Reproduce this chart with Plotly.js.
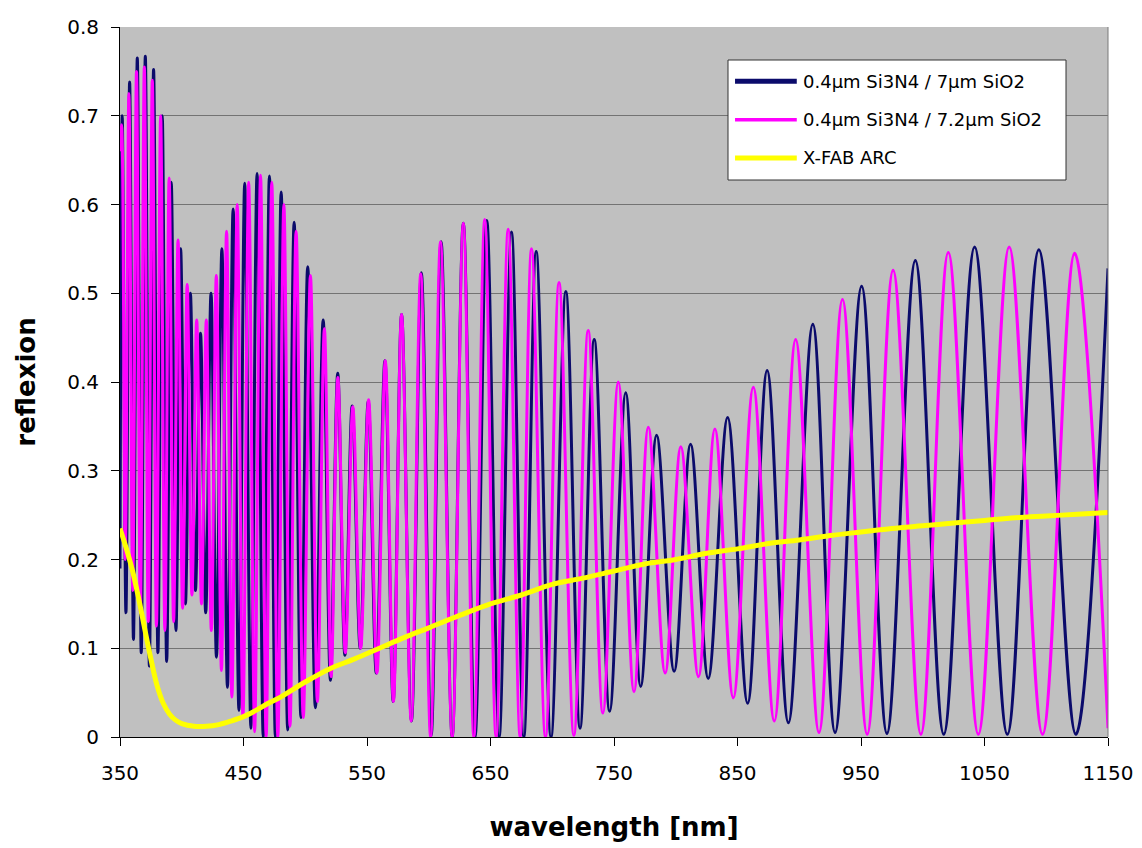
<!DOCTYPE html>
<html>
<head>
<meta charset="utf-8">
<script src="https://cdn.plot.ly/plotly-3.0.1.min.js"></script>
<style>html,body{margin:0;padding:0;background:#fff;}#chart{width:1142px;height:848px;}</style>
</head>
<body>
<div id="chart"></div>
<script>
// 0.4um Si3N4 / 7um SiO2 (extrema)
const wl7 = [350,351.8,354.8,357.8,360.9,364.0,367.2,370.5,373.8,377.2,380.7,384.2,387.8,391.5,395.3,399.1,403.0,407.0,411.1,415.2,419.4,423.7,428.1,432.5,437.0,441.6,446.3,451.0,456.0,461.0,466.0,471.0,475.8,480.5,485.8,491.0,496.5,502.0,508.2,514.5,520.4,526.3,532.1,538.0,544.5,551.0,557.5,564.5,571.2,578.0,586.0,594.0,602.0,610.0,619.0,628.0,637.5,647.0,657.0,667.0,677.0,687.0,699.0,711.0,722.5,734.0,746.5,759.5,771.6,784.5,798.7,812.0,826.3,842.0,858.2,874.0,891.2,911.0,929.0,950.5,971.0,994.0,1017.0,1042.0,1068.5,1094.0,1124.0,1150];
const r7 = [0.19,0.70,0.14,0.738,0.11,0.765,0.095,0.767,0.08,0.752,0.095,0.70,0.085,0.625,0.12,0.55,0.15,0.50,0.165,0.455,0.14,0.50,0.09,0.55,0.056,0.595,0.03,0.624,0.01,0.635,0.0,0.632,0.0,0.614,0.008,0.58,0.022,0.53,0.033,0.47,0.064,0.41,0.092,0.373,0.10,0.378,0.072,0.424,0.04,0.476,0.018,0.523,0.002,0.558,0.0,0.579,0.0,0.582,0.0,0.569,0.0,0.547,0.0,0.502,0.01,0.448,0.029,0.388,0.057,0.34,0.074,0.33,0.066,0.36,0.038,0.413,0.016,0.465,0.005,0.508,0.004,0.537,0.003,0.552,0.003,0.549,0.003,0.528];

// 0.4um Si3N4 / 7.2um SiO2
const wl72 = [350,351.3,354.25,357.2,360.3,363.35,366.5,369.7,372.9,376.15,379.5,382.9,386.35,389.8,393.4,397.0,400.7,404.4,408.25,412.1,416.0,419.9,423.95,428.0,432.15,436.3,440.6,444.9,449.55,454.2,459.0,463.8,468.35,472.9,477.8,482.7,487.65,492.6,498.4,504.2,509.85,515.5,520.95,526.4,532.45,538.5,544.9,551.3,558.05,564.8,571.4,578.0,585.8,593.5,601.5,609.5,619.0,628.0,636.5,645.3,654.5,664.3,674.0,683.2,694.5,705.5,717.5,729.1,741.0,753.5,766.2,777.8,791.4,804.1,818.4,831.7,846.6,862.8,879.8,897.1,916.0,935.0,955.0,976.0,998.5,1020.7,1045.0,1070.0,1097.0,1123.0,1150];
const r72 = [0.66,0.69,0.20,0.725,0.165,0.75,0.14,0.755,0.13,0.74,0.125,0.70,0.12,0.63,0.13,0.56,0.145,0.51,0.16,0.47,0.15,0.47,0.12,0.52,0.075,0.57,0.045,0.60,0.022,0.625,0.006,0.633,0.0,0.625,0.0,0.60,0.012,0.57,0.022,0.52,0.04,0.46,0.068,0.405,0.095,0.372,0.10,0.38,0.072,0.424,0.04,0.476,0.018,0.522,0.0,0.558,0.0,0.579,0.0,0.583,0.0,0.572,0.0,0.55,0.0,0.512,0.002,0.458,0.027,0.40,0.051,0.349,0.072,0.327,0.068,0.347,0.044,0.394,0.018,0.448,0.005,0.493,0.003,0.526,0.003,0.546,0.003,0.552,0.003,0.545,0.01];

// X-FAB ARC
const wlArc = [350,355,360,365,370,375,380,385,390,395,400,410,420,430,440,450,460,470,480,500,520,540,560,580,600,625,650,675,700,725,750,775,800,825,850,875,900,925,950,975,1000,1025,1050,1075,1100,1125,1150];
const rArc = [0.235,0.213,0.188,0.157,0.122,0.088,0.058,0.038,0.026,0.019,0.015,0.012,0.012,0.014,0.018,0.023,0.03,0.038,0.045,0.062,0.077,0.088,0.1,0.112,0.123,0.137,0.15,0.16,0.172,0.179,0.187,0.195,0.2,0.207,0.212,0.218,0.222,0.227,0.231,0.235,0.238,0.241,0.244,0.247,0.249,0.251,0.253];

const seriesNames = ['0.4µm Si3N4 / 7µm SiO2','0.4µm Si3N4 / 7.2µm SiO2','X-FAB ARC'];
const seriesColors = ['#0b0b6b','#ff00ff','#ffff00'];
const seriesWidths = [3.0, 3.0, 5.0];
const xTicks = [350,450,550,650,750,850,950,1050,1150];

const FONT = 'DejaVu Sans, Verdana, sans-serif';

const traces = [
  {x: wl7, y: r7, name: seriesNames[0], type: 'scatter', mode: 'lines',
   line: {color: seriesColors[0], width: seriesWidths[0], shape: 'spline', smoothing: 1}},
  {x: wl72, y: r72, name: seriesNames[1], type: 'scatter', mode: 'lines',
   line: {color: seriesColors[1], width: seriesWidths[1], shape: 'spline', smoothing: 1}},
  {x: wlArc, y: rArc, name: seriesNames[2], type: 'scatter', mode: 'lines',
   line: {color: seriesColors[2], width: seriesWidths[2], shape: 'spline', smoothing: 1}}
];

// legend box drawn in paper coordinates (plot area: 988 x 710 px)
const legX0 = 0.6154, legX1 = 0.9575, legY0 = 0.7845, legY1 = 0.9535;
const legRows = [0.9235, 0.8693, 0.8155];
const legLineX0 = 0.6225, legLineX1 = 0.6850, legTextX = 0.6895;

const shapes = [
  {type: 'line', xref: 'paper', yref: 'paper', x0: 1, x1: 1, y0: 0, y1: 1, line: {color: '#7a7a7a', width: 1}},
  {type: 'rect', xref: 'paper', yref: 'paper', x0: legX0, x1: legX1, y0: legY0, y1: legY1,
   fillcolor: '#ffffff', line: {color: '#333333', width: 1}, layer: 'above'}
];
const annotations = [];
seriesNames.forEach((n, i) => {
  shapes.push({type: 'line', xref: 'paper', yref: 'paper', x0: legLineX0, x1: legLineX1,
    y0: legRows[i], y1: legRows[i], line: {color: seriesColors[i], width: i === 1 ? 3.5 : 5}, layer: 'above'});
  annotations.push({xref: 'paper', yref: 'paper', x: legTextX, y: legRows[i], text: n,
    showarrow: false, xanchor: 'left', yanchor: 'middle',
    font: {family: FONT, size: 18, color: '#000'}});
});

const layout = {
  width: 1142, height: 848,
  margin: {l: 120, r: 34, t: 27, b: 111},
  paper_bgcolor: '#ffffff',
  plot_bgcolor: '#c0c0c0',
  font: {family: FONT, color: '#000', size: 20},
  showlegend: false,
  xaxis: {
    range: [350, 1150], tickvals: xTicks, ticktext: xTicks.map(String),
    showgrid: false, zeroline: false,
    showline: true, linecolor: '#000', linewidth: 1,
    ticks: 'outside', ticklen: 8, tickcolor: '#000', ticklabelstandoff: 10,
    tickfont: {size: 20, family: FONT},
    title: {text: 'wavelength [nm]', font: {size: 26, weight: 'bold', family: FONT}, standoff: 33}
  },
  yaxis: {
    range: [0, 0.8], dtick: 0.1, tick0: 0,
    showgrid: true, gridcolor: '#737373', gridwidth: 1,
    zeroline: false,
    showline: true, linecolor: '#000', linewidth: 1,
    ticks: 'outside', ticklen: 8, tickcolor: '#000', ticklabelstandoff: 8,
    tickfont: {size: 20, family: FONT},
    title: {text: 'reflexion', font: {size: 26, weight: 'bold', family: FONT}, standoff: 24}
  },
  shapes: shapes,
  annotations: annotations
};

Plotly.newPlot('chart', traces, layout, {displayModeBar: false, staticPlot: true});
</script>
</body>
</html>
